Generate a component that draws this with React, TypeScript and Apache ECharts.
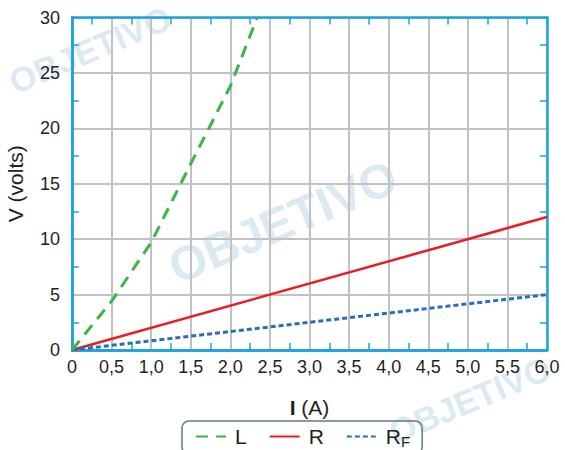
import React, { useEffect, useRef } from "react";
import * as echarts from "echarts";

const currentL = [0, 0.5, 1.0, 1.5, 2.0, 2.34];
const voltageL = [0, 4.4, 9.7, 16.8, 23.8, 30];
const currentR = [0, 6];
const voltageR = [0, 12];
const currentRF = [0, 6];
const voltageRF = [0, 5];
const seriesNames = ["L", "R", "RF"];
const xMinorTicks = [0.25, 0.75, 1.25, 1.75, 2.25, 2.75, 3.25, 3.75, 4.25, 4.75, 5.25, 5.75];
const yMinorTicks = [2.5, 7.5, 12.5, 17.5, 22.5, 27.5];

const AXIS_BLUE = "#1ba3de";
const GRID_GRAY = "#c2c2c6";
const TEXT = "#231f20";
const FONT = "Liberation Sans, Arial, sans-serif";

const pairs = (xs: number[], ys: number[]) => xs.map((x, i) => [x, ys[i]]);

export default function App() {
  const ref = useRef<HTMLDivElement>(null);
  useEffect(() => {
    if (!ref.current) return;
    const chart = echarts.init(ref.current, null, { renderer: "svg" });
    const xFmt = (v: number) => (v === 0 ? "0" : v.toFixed(1).replace(".", ","));
    const baseX = { type: "value", min: 0, max: 6, interval: 0.5 };
    const baseY = { type: "value", min: 0, max: 30, interval: 5 };
    const axisLine = { show: true, onZero: false, lineStyle: { color: AXIS_BLUE, width: 2.5 } };
    const tickX = {
      show: true,
      inside: true,
      length: 7,
      customValues: xMinorTicks,
      lineStyle: { color: AXIS_BLUE, width: 1.5 },
    };
    const tickY = {
      show: true,
      inside: true,
      length: 7,
      customValues: yMinorTicks,
      lineStyle: { color: AXIS_BLUE, width: 1.5 },
    };
    const tickAxisX = (position: string) => ({
      ...baseX,
      position,
      axisLine,
      axisTick: tickX,
      splitLine: { show: false },
      axisLabel: { show: false },
    });
    const tickAxisY = (position: string) => ({
      ...baseY,
      position,
      axisLine,
      axisTick: tickY,
      splitLine: { show: false },
      axisLabel: { show: false },
    });
    const wm = (x: number, y: number, size: number) => ({
      type: "text",
      x,
      y,
      rotation: (23 * Math.PI) / 180,
      z: -10,
      style: {
        text: "OBJETIVO",
        fill: "#cfe3ec",
        font: "bold " + size + "px " + FONT,
        align: "center",
        verticalAlign: "middle",
        opacity: 0.75,
      },
    });
    chart.setOption({
      animation: false,
      backgroundColor: "#ffffff",
      textStyle: { fontFamily: FONT },
      graphic: [wm(90, 50, 34), wm(283, 222, 48), wm(470, 400, 34)],
      grid: {
        left: 72,
        right: 18,
        top: 17.5,
        bottom: 100,
        containLabel: false,
        outerBoundsMode: "none",
      },
      legend: {
        left: 182,
        top: 421,
        padding: [5, 12, 5, 13],
        borderColor: "#5d7c80",
        borderWidth: 1.5,
        borderRadius: 7,
        itemWidth: 30,
        itemHeight: 14,
        itemGap: 22,
        itemStyle: { opacity: 0, borderWidth: 0 },
        data: seriesNames,
        formatter: (name: string) => (name === "RF" ? "R{sub|F}" : name),
        textStyle: {
          fontSize: 21,
          color: TEXT,
          fontFamily: FONT,
          padding: [0, 0, 0, 4],
          rich: {
            sub: { fontSize: 15, verticalAlign: "bottom", padding: [10, 0, 0, 0], color: TEXT, fontFamily: FONT },
          },
        },
      },
      xAxis: [
        {
          ...baseX,
          position: "bottom",
          name: "{b|I} (A)",
          nameLocation: "middle",
          nameGap: 47,
          nameTextStyle: {
            fontSize: 21,
            color: TEXT,
            fontFamily: FONT,
            rich: { b: { fontSize: 21, fontWeight: "bold", color: TEXT, fontFamily: FONT } },
          },
          axisLine,
          axisTick: { show: false },
          splitLine: { show: true, lineStyle: { color: GRID_GRAY, width: 2 } },
          axisLabel: { formatter: xFmt, fontSize: 18, color: TEXT, margin: 8, fontFamily: FONT },
        },
        tickAxisX("bottom"),
        tickAxisX("top"),
      ],
      yAxis: [
        {
          ...baseY,
          position: "left",
          name: "V (volts)",
          nameLocation: "middle",
          nameGap: 46,
          nameRotate: 90,
          nameTextStyle: { fontSize: 21, color: TEXT, fontFamily: FONT },
          axisLine,
          axisTick: { show: false },
          splitLine: { show: true, lineStyle: { color: GRID_GRAY, width: 2 } },
          axisLabel: { fontSize: 18, color: TEXT, margin: 12, fontFamily: FONT },
        },
        tickAxisY("left"),
        tickAxisY("right"),
      ],
      series: [
        {
          name: "L",
          type: "line",
          xAxisIndex: 0,
          yAxisIndex: 0,
          data: pairs(currentL, voltageL),
          symbol: "none",
          smooth: false,
          itemStyle: { color: "#3bb54a" },
          lineStyle: { color: "#3bb54a", width: 3, type: [12, 8] },
          z: 5,
        },
        {
          name: "R",
          type: "line",
          xAxisIndex: 0,
          yAxisIndex: 0,
          data: pairs(currentR, voltageR),
          symbol: "none",
          itemStyle: { color: "#ec1c24" },
          lineStyle: { color: "#ec1c24", width: 2.5, type: "solid" },
          z: 4,
        },
        {
          name: "RF",
          type: "line",
          xAxisIndex: 0,
          yAxisIndex: 0,
          data: pairs(currentRF, voltageRF),
          symbol: "none",
          itemStyle: { color: "#2a6ebb" },
          lineStyle: { color: "#2a6ebb", width: 3, type: [5, 3] },
          z: 4,
        },
      ],
    });
    return () => chart.dispose();
  }, []);
  return (
    <div
      ref={ref}
      style={{ position: "absolute", left: 0, top: 0, width: 565, height: 450, background: "#fff" }}
    />
  );
}
